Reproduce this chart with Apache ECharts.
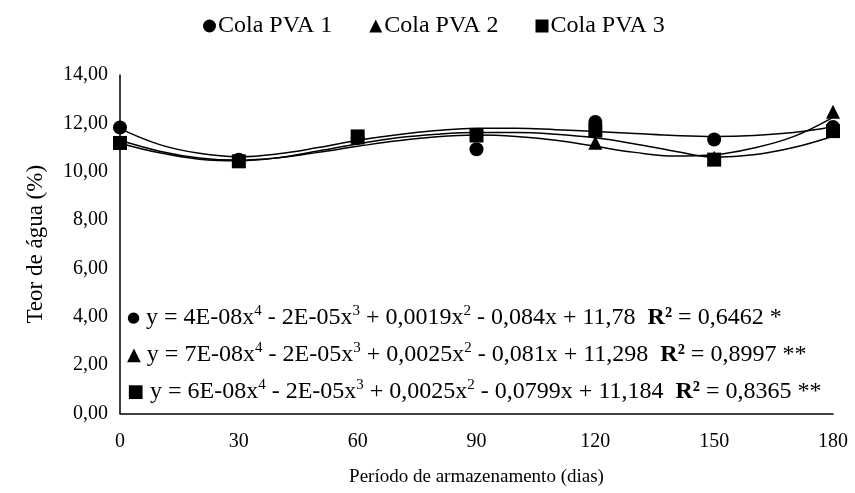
<!DOCTYPE html>
<html>
<head>
<meta charset="utf-8">
<script src="https://cdn.jsdelivr.net/npm/echarts@6/dist/echarts.min.js"></script>
<style>
  html, body { margin: 0; padding: 0; background: #ffffff; }
  #chart { width: 855px; height: 493px; }
</style>
</head>
<body>
<div id="chart"></div>
<script>
// Storage period (days) at which moisture content was measured
const days = [0, 30, 60, 90, 120, 150, 180];

// Measured moisture content (%) for each PVA glue
const pva1 = [11.83, 10.50, 11.40, 10.93, 12.06, 11.33, 11.85];
const pva2 = [11.22, 10.45, 11.42, 11.50, 11.20, 10.58, 12.48];
const pva3 = [11.19, 10.43, 11.46, 11.52, 11.70, 10.50, 11.68];

// Fourth-order trend lines, sampled every 10 days
const trendDays = [0, 10, 20, 30, 40, 50, 60, 70, 80, 90, 100, 110, 120, 130, 140, 150, 160, 170, 180];
const trend1 = [11.78, 11.12, 10.76, 10.62, 10.74, 11.00, 11.30, 11.53, 11.70, 11.80, 11.80, 11.74, 11.66, 11.58, 11.50, 11.46, 11.50, 11.62, 11.86];
const trend2 = [11.30, 10.85, 10.57, 10.48, 10.58, 10.80, 11.05, 11.28, 11.45, 11.52, 11.46, 11.30, 11.05, 10.80, 10.65, 10.70, 10.98, 11.45, 12.25];
const trend3 = [11.18, 10.78, 10.52, 10.45, 10.58, 10.86, 11.15, 11.40, 11.55, 11.62, 11.62, 11.55, 11.40, 11.15, 10.85, 10.60, 10.70, 11.00, 11.47];

// Series names and regression equations
const seriesNames = ['Cola PVA 1', 'Cola PVA 2', 'Cola PVA 3'];
const equations = [
  '{m|●} y = 4E-08x{s|4} - 2E-05x{s|3} + 0,0019x{s|2} - 0,084x + 11,78  {b|R²} = 0,6462 *',
  '{m|▲} y = 7E-08x{s|4} - 2E-05x{s|3} + 0,0025x{s|2} - 0,081x + 11,298  {b|R²} = 0,8997 **',
  '{m|■} y = 6E-08x{s|4} - 2E-05x{s|3} + 0,0025x{s|2} - 0,0799x + 11,184  {b|R²} = 0,8365 **'
];

// Axis bounds and tick spacing
const yMin = 0, yMax = 14, yStep = 2;
const xMin = 0, xMax = 180, xStep = 30;

const FONT = '"Liberation Serif", "Times New Roman", serif';

const pairs = (xs, ys) => xs.map((x, i) => [x, ys[i]]);

const chart = echarts.init(document.getElementById('chart'), null, { renderer: 'canvas' });

const symbols = ['circle', 'triangle', 'rect'];
const measured = [pva1, pva2, pva3];
const trends = [trend1, trend2, trend3];

const series = [];
trends.forEach((t, i) => {
  series.push({
    name: seriesNames[i] + ' tendência',
    type: 'line',
    data: pairs(trendDays, t),
    smooth: 0.4,
    showSymbol: false,
    symbol: 'none',
    silent: true,
    lineStyle: { color: '#000', width: 1.5 },
    z: 2
  });
});
measured.forEach((m, i) => {
  series.push({
    name: seriesNames[i],
    type: 'scatter',
    data: pairs(days, m),
    symbol: symbols[i],
    symbolSize: 14,
    itemStyle: { color: '#000', opacity: 1 },
    z: 5
  });
});

const eqTop = [304, 341, 378];

chart.setOption({
  animation: false,
  backgroundColor: '#ffffff',
  textStyle: { fontFamily: FONT, color: '#000' },
  legend: {
    data: seriesNames,
    top: 9,
    left: 198,
    itemGap: 37,
    itemWidth: 13,
    itemHeight: 13,
    textStyle: { fontFamily: FONT, fontSize: 24, color: '#000', padding: [0, 0, 0, -3] }
  },
  grid: { left: 120, right: 22, top: 75, bottom: 79.5, containLabel: false },
  xAxis: {
    type: 'value',
    min: xMin, max: xMax, interval: xStep,
    name: 'Período de armazenamento (dias)',
    nameLocation: 'middle',
    nameGap: 54,
    nameTextStyle: { fontFamily: FONT, fontSize: 19, color: '#000' },
    axisLine: { show: true, lineStyle: { color: '#000', width: 1.5 } },
    axisTick: { show: false },
    splitLine: { show: false },
    axisLabel: { fontFamily: FONT, fontSize: 20, color: '#000', margin: 18 }
  },
  yAxis: {
    type: 'value',
    min: yMin, max: yMax, interval: yStep,
    name: 'Teor de água (%)',
    nameLocation: 'middle',
    nameGap: 73,
    nameRotate: 90,
    nameTextStyle: { fontFamily: FONT, fontSize: 23, color: '#000' },
    axisLine: { show: true, lineStyle: { color: '#000', width: 1.5 } },
    axisTick: { show: false },
    splitLine: { show: false },
    axisLabel: {
      fontFamily: FONT, fontSize: 20, color: '#000', margin: 12,
      formatter: v => v.toFixed(2).replace('.', ',')
    }
  },
  graphic: equations.map((txt, i) => ({
    type: 'text',
    left: 127,
    top: eqTop[i],
    z: 10,
    style: {
      text: txt,
      fill: '#000',
      font: '24px ' + FONT,
      lineHeight: 28,
      rich: {
        m: { fontSize: i === 0 ? 15 : 18, fontFamily: 'DejaVu Sans', lineHeight: 28 },
        s: { fontSize: 15, fontFamily: FONT, verticalAlign: 'top' },
        b: { fontSize: 24, fontFamily: FONT, fontWeight: 'bold', lineHeight: 28 }
      }
    }
  })),
  series: series
});
</script>
</body>
</html>
